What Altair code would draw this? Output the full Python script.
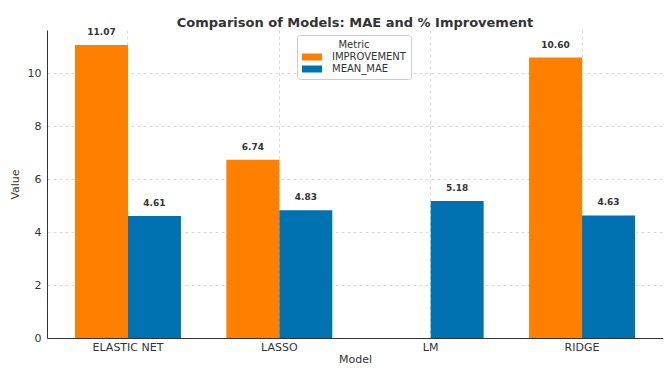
import altair as alt
import pandas as pd

models = ["ELASTIC NET", "LASSO", "LM", "RIDGE"]
improvement = [11.07, 6.74, None, 10.60]
mean_mae = [4.61, 4.83, 5.18, 4.63]
metrics = ["IMPROVEMENT", "MEAN_MAE"]
colors = ["#FF7F00", "#0072B2"]
y_ticks = [0, 2, 4, 6, 8, 10]

rows = []
for m, imp, mae in zip(models, improvement, mean_mae):
    if imp is not None:
        rows.append({"Model": m, "Metric": metrics[0], "Value": imp})
    rows.append({"Model": m, "Metric": metrics[1], "Value": mae})
df = pd.DataFrame(rows)
df["Label"] = df["Value"].map(lambda v: f"{v:.2f}")

FONT = "DejaVu Sans"

x = alt.X(
    "Model:N",
    sort=models,
    title="Model",
    scale=alt.Scale(paddingInner=0.3, paddingOuter=0.185),
    axis=alt.Axis(
        labelAngle=0, grid=True, bandPosition=0.5, gridDash=[3, 3],
        gridColor="#d9d9d9", ticks=False, labelPadding=3,
        domainColor="#333333", labelFontSize=11, titleFontSize=11,
        labelColor="#333333", titleColor="#333333", titleFontWeight="normal",
        titlePadding=1,
    ),
)
xo = alt.XOffset("Metric:N", sort=metrics, scale=alt.Scale(paddingInner=0, paddingOuter=0))
y = alt.Y(
    "Value:Q",
    title="Value",
    scale=alt.Scale(domain=[0, 11.64], nice=False),
    axis=alt.Axis(
        values=y_ticks, grid=True, gridDash=[3, 3], gridColor="#d9d9d9",
        ticks=False, labelPadding=6, domainColor="#333333", labelFontSize=11,
        titleFontSize=11, labelColor="#333333", titleColor="#333333",
        titleFontWeight="normal", titlePadding=7,
    ),
)

bars = alt.Chart(df).mark_bar().encode(
    x=x,
    xOffset=xo,
    y=y,
    color=alt.Color(
        "Metric:N",
        sort=metrics,
        scale=alt.Scale(domain=metrics, range=colors),
        legend=alt.Legend(
            title="Metric", orient="none", legendX=250, legendY=5,
            titleAnchor="middle", titleFontWeight="normal", titleFontSize=10,
            titleColor="#333333", labelFontSize=10, labelColor="#333333",
            titlePadding=2,
            symbolType="M-1,-0.7L3,-0.7L3,0.7L-1,0.7Z", symbolSize=100,
            symbolStrokeWidth=0, labelOffset=20, strokeColor="#cccccc",
            fillColor="white", padding=5, cornerRadius=3, rowPadding=2,
        ),
    ),
)

labels = alt.Chart(df).mark_text(
    dy=-8, fontSize=9, fontWeight="bold", color="#333333", font=FONT, baseline="bottom"
).encode(
    x=alt.X("Model:N", sort=models),
    xOffset=alt.XOffset("Metric:N", sort=metrics),
    y="Value:Q",
    text="Label:N",
)

chart = (
    alt.layer(bars, labels)
    .properties(
        width=616,
        height=308,
        padding={"left": 39, "top": 22, "right": 0, "bottom": 32},
        autosize=alt.AutoSizeParams(type="none"),
        title=alt.Title(
            "Comparison of Models: MAE and % Improvement",
            fontSize=13, fontWeight="bold", color="#333333", font=FONT,
            anchor="middle", offset=-2,
        ),
    )
    .configure(font=FONT)
    .configure_view(stroke=None)
)

chart.save("out.html", embed_options={"renderer": "svg", "actions": False})
